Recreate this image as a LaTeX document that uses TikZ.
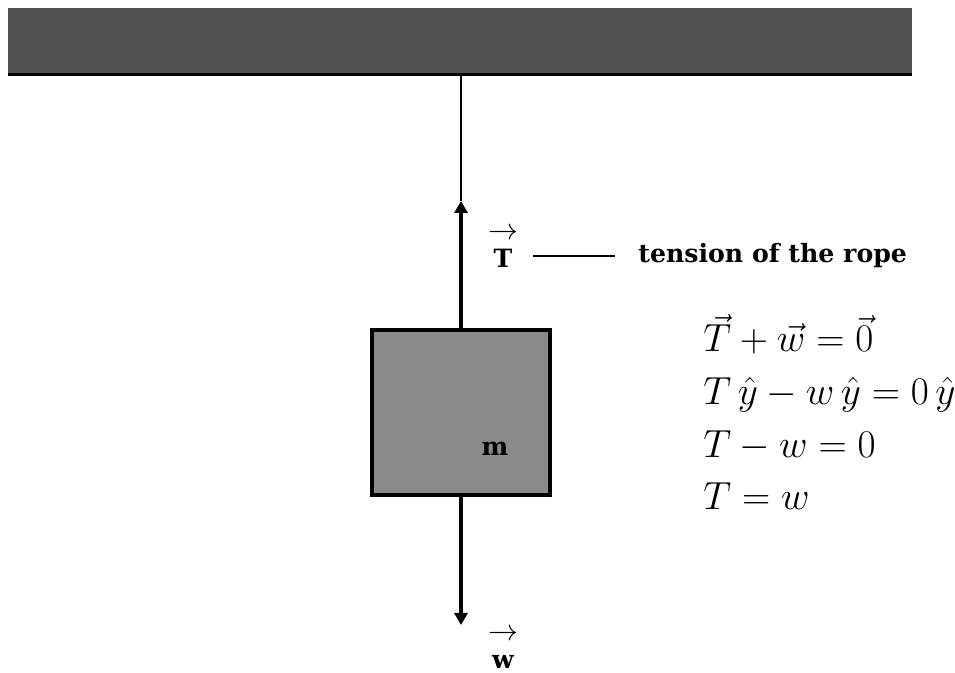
\RequirePackage{fix-cm}
\documentclass[tikz,border=0pt]{standalone}
\usepackage{amsmath}
\usepackage{fontspec}
\newfontfamily\labelfont{DejaVu Serif}
\usetikzlibrary{positioning,arrows.meta}
\definecolor{ceilgray}{RGB}{82,82,82}
\definecolor{massgray}{RGB}{138,138,138}

\begin{document}
\begin{tikzpicture}[x=0.5pt, y=-0.5pt,
    force/.style={line width=2pt, -{Triangle[length=6pt, width=6.5pt]}},
    lbl/.style={font=\labelfont\bfseries\fontsize{12.6}{14}\selectfont, inner sep=0pt},
    vlbl/.style={lbl, align=center},
    eqn/.style={font=\fontsize{19.6}{24}\selectfont, anchor=base west, inner sep=0pt}]
    \useasboundingbox (0,0) rectangle (955,673);

    % Ceiling
    \fill[ceilgray] (8,8) rectangle (912,73);
    \draw[line width=1.6pt] (8,74.5) -- (912,74.5);
    \coordinate (hook) at (461,76);

    % Block
    \node[draw, line width=2pt, fill=massgray, minimum width=89pt, minimum height=82.5pt, inner sep=0pt] (mass) at (461,412.5) {};
    \node[lbl, anchor=base] (mlabel) at (495,456) {m};

    % Rope and forces
    \coordinate (Ttip) at (461,201);
    \coordinate (wtip) at (461,625);
    \draw[line width=1.1pt] (hook) -- (Ttip);
    \draw[force] (mass.north) -- (Ttip);
    \draw[force] (mass.south) -- (wtip);

    % Force labels
    \node[vlbl] (Tlabel) at (503,248) {{\fontsize{15}{8}\selectfont$\rightarrow$}\\T};
    \node[vlbl] (wlabel) at (503,649) {{\fontsize{15}{8}\selectfont$\rightarrow$}\\w};
    \node[lbl, anchor=base west] (tension) at (638,263) {tension of the rope};
    \draw[line width=0.6pt] (533,256) -- ([xshift=-11.5pt]tension.west |- 0,256);

    % Equations
    \node[eqn] (eq1) at (703,352) {$\vec{T}+\vec{w}=\vec{0}$};
    \node[eqn] (eq2) at (703,405) {$T\,\hat{y}-w\,\hat{y}=0\,\hat{y}$};
    \node[eqn] (eq3) at (703,458) {$T-w=0$};
    \node[eqn] (eq4) at (703,510) {$T=w$};
\end{tikzpicture}
\end{document}
